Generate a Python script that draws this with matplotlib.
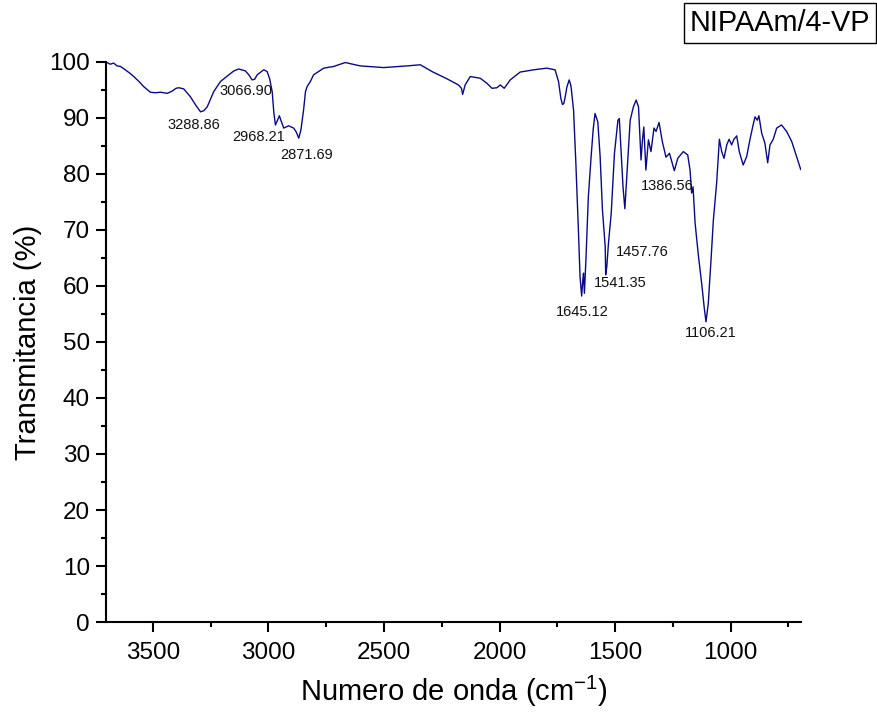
import matplotlib
matplotlib.use('Agg')
import matplotlib.pyplot as plt
from matplotlib.ticker import MultipleLocator

plt.rcParams['font.family'] = ['Liberation Sans', 'DejaVu Sans']
plt.rcParams['mathtext.fontset'] = 'custom'
plt.rcParams['mathtext.rm'] = 'Liberation Sans'
plt.rcParams['mathtext.default'] = 'regular'

# FTIR spectrum (wavenumber cm-1, transmittance %)
wavenumber = [3698, 3685, 3670, 3655, 3640, 3620, 3600, 3583, 3560, 3540, 3511, 3490, 3467, 3438,
              3417, 3400, 3388, 3367, 3338, 3315, 3294, 3280, 3265, 3237, 3208, 3172, 3150, 3129,
              3100, 3085, 3071, 3060, 3049, 3021, 3006, 2995, 2984, 2977, 2970, 2962, 2953, 2944,
              2934, 2913, 2891, 2880, 2869, 2860, 2855, 2848, 2840, 2833, 2819, 2805, 2761, 2718,
              2668, 2603, 2502, 2401, 2343, 2293, 2228, 2178, 2165, 2160, 2155, 2149, 2127, 2084,
              2055, 2033, 2012, 1997, 1980, 1954, 1911, 1853, 1796, 1760, 1745, 1735, 1728, 1722,
              1716, 1709, 1699, 1693, 1690, 1680, 1670, 1659, 1652, 1645, 1640, 1637, 1633, 1626,
              1616, 1604, 1595, 1587, 1575, 1565, 1555, 1543, 1541, 1536, 1529, 1517, 1503, 1488,
              1482, 1474, 1466, 1458, 1448, 1435, 1421, 1409, 1399, 1393, 1388, 1382, 1376, 1367,
              1356, 1345, 1332, 1323, 1310, 1296, 1280, 1265, 1244, 1229, 1205, 1186, 1176, 1169,
              1163, 1154, 1140, 1125, 1115, 1107, 1097, 1086, 1075, 1061, 1049, 1039, 1029, 1017,
              1007, 996, 986, 974, 963, 946, 931, 917, 905, 895, 885, 878, 866, 852,
              840, 830, 816, 801, 780, 758, 736, 715, 697]
transmittance = [99.9, 99.6, 99.8, 99.3, 99.2, 98.6, 98.0, 97.4, 96.5, 95.6, 94.6, 94.5, 94.6, 94.4,
                 94.8, 95.3, 95.4, 95.2, 93.8, 92.3, 91.1, 91.3, 92.0, 94.7, 96.5, 97.7, 98.4, 98.75,
                 98.4, 97.7, 96.8, 96.9, 97.7, 98.6, 98.3, 97.0, 94.7, 91.0, 88.75, 89.5, 90.4, 89.3,
                 88.2, 88.6, 88.2, 87.5, 86.4, 87.8, 89.3, 91.5, 94.7, 95.6, 96.5, 97.7, 98.9, 99.2,
                 99.9, 99.3, 99.0, 99.3, 99.5, 98.3, 97.0, 95.9, 95.3, 94.2, 95.0, 95.9, 97.4, 97.1,
                 96.2, 95.3, 95.4, 95.9, 95.3, 96.8, 98.2, 98.6, 98.9, 98.6, 96.5, 93.5, 92.4, 92.6,
                 93.8, 95.5, 96.8, 96.0, 95.3, 91.4, 81.9, 70.0, 61.7, 58.2, 61.0, 62.3, 58.7, 65.2,
                 75.9, 83.1, 88.0, 90.8, 89.3, 83.1, 73.6, 67.0, 62.0, 63.5, 67.6, 73.0, 83.7, 89.6,
                 89.9, 83.7, 77.7, 73.8, 80.7, 89.6, 92.0, 93.2, 92.0, 87.0, 82.5, 86.0, 88.4, 80.7,
                 86.1, 84.0, 88.2, 87.6, 89.2, 85.8, 83.0, 83.7, 80.6, 82.8, 84.0, 83.4, 80.7, 76.6,
                 77.7, 71.2, 65.5, 60.2, 56.3, 53.6, 56.9, 64.1, 71.8, 78.3, 86.2, 84.0, 82.8, 85.2,
                 86.2, 85.2, 86.2, 86.8, 84.0, 81.6, 83.1, 86.1, 88.4, 90.2, 89.6, 90.4, 87.3, 85.5,
                 82.0, 85.2, 86.2, 88.2, 88.75, 87.6, 85.8, 83.1, 80.8]

# peak labels and where they sit
peak_labels = ['3288.86', '3066.90', '2968.21', '2871.69', '1645.12', '1541.35', '1457.76', '1386.56', '1106.21']
label_x = [3322, 3096, 3042, 2836, 1643, 1478, 1383, 1275, 1085]
label_y = [88.75, 94.9, 86.55, 83.4, 55.4, 60.5, 66.1, 77.9, 51.6]

fig = plt.figure(figsize=(8.77, 7.19), dpi=100)
ax = fig.add_axes([0.1209, 0.1349, 0.7924, 0.7789])

ax.plot(wavenumber, transmittance, color='#0a0a85', lw=1.0)

for txt, x, y in zip(peak_labels, label_x, label_y):
    ax.text(x, y, txt, fontsize=10.5, ha='center', va='center', color='#111111')

ax.set_xlim(3703, 696)
ax.set_ylim(0, 100)
ax.xaxis.set_major_locator(MultipleLocator(500))
ax.xaxis.set_minor_locator(MultipleLocator(250))
ax.yaxis.set_major_locator(MultipleLocator(10))
ax.yaxis.set_minor_locator(MultipleLocator(5))

for s in ['top', 'right']:
    ax.spines[s].set_visible(False)
for s in ['left', 'bottom']:
    ax.spines[s].set_linewidth(1.5)

ax.tick_params(which='major', length=7, width=1.5, labelsize=17.5, direction='out')
ax.tick_params(which='minor', length=3.5, width=1.5, direction='out')
ax.tick_params(axis='x', pad=7.5)
ax.tick_params(axis='y', pad=4.5)

ax.set_xlabel('Numero de onda (cm$^{-1}$)', fontsize=21, labelpad=7)
ax.set_ylabel('Transmitancia (%)', fontsize=21, labelpad=5)

fig.text(0.992, 0.9878, 'NIPAAm/4-VP', fontsize=20.8, ha='right', va='top',
         bbox=dict(boxstyle='square,pad=0.2', facecolor='white', edgecolor='black', lw=1))

fig.savefig('out.png', dpi=100)
